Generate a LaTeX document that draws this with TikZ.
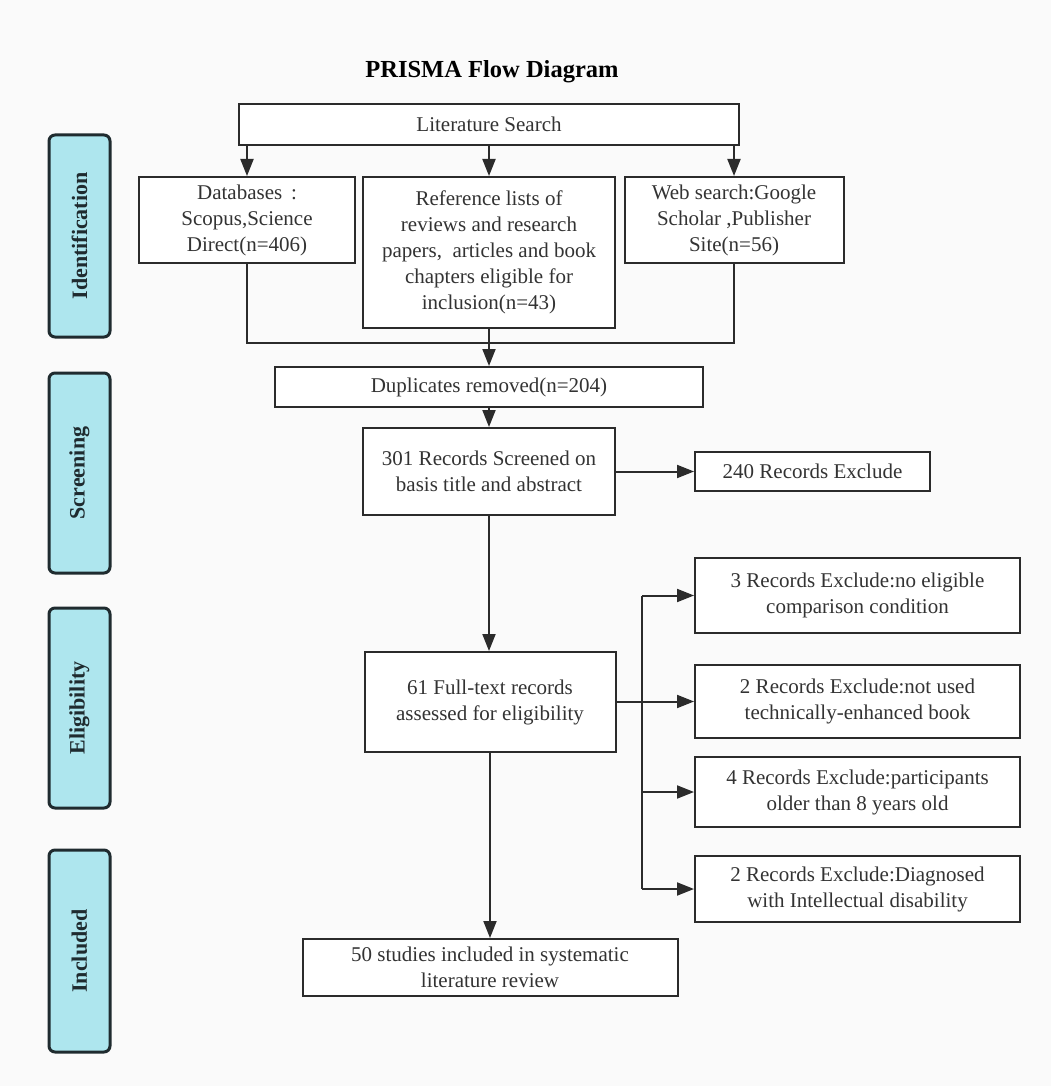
\documentclass[tikz,border=0pt]{standalone}
\usepackage{fontspec}
\setmainfont{Liberation Serif}
\usetikzlibrary{arrows.meta}
\definecolor{bg}{HTML}{FAFAFA}
\definecolor{ln}{HTML}{2B2B2B}
\definecolor{tx}{HTML}{333333}
\definecolor{lanefill}{HTML}{AEE6EE}
\definecolor{laneline}{HTML}{1F2B2F}
\tikzset{
  box/.style={draw=ln, line width=2pt, fill=white, text=tx, align=center,
    inner sep=0pt, font=\fontsize{21}{26}\selectfont},
  lane/.style={draw=laneline, line width=3pt, fill=lanefill, rounded corners=6pt,
    minimum width=61pt, inner sep=0pt, text=laneline},
  lanetext/.style={rotate=90, font=\bfseries\fontsize{22}{26}\selectfont, text=laneline},
  conn/.style={draw=ln, line width=2pt},
  arr/.style={conn, -{Triangle[length=17pt,width=13pt]}},
}
\begin{document}
\begin{tikzpicture}[x=1pt,y=-1pt]
\useasboundingbox (0,0) rectangle (1051,1086);
\fill[bg] (0,0) rectangle (1051,1086);

% title
\node[font=\bfseries\fontsize{24.5}{28}\selectfont, text=black] (title) at (492,72) {PRISMA Flow Diagram};

% lane labels
\node[lane, minimum height=202pt] (lid) at (79.5,236) {};
\node[lanetext] (tid) at (lid.center) {Identification};
\node[lane, minimum height=200pt] (lsc) at (79.5,473) {};
\node[lanetext] (tsc) at (lsc.center) {Screening};
\node[lane, minimum height=200pt] (lel) at (79.5,708) {};
\node[lanetext] (tel) at (lel.center) {Eligibility};
\node[lane, minimum height=202pt] (lin) at (79.5,951) {};
\node[lanetext] (tin) at (lin.center) {Included};

% boxes
\node[box, minimum width=500pt, minimum height=41pt] (lit) at (489,124.5) {Literature Search};
\node[box, minimum width=216pt, minimum height=86pt] (db) at (247,220) {Databases\ \,:\\Scopus,Science\\Direct(n=406)};
\node[box, minimum width=252pt, minimum height=151pt] (ref) at (489,252.5) {Reference lists of\\reviews and research\\papers,\ \ articles and book\\chapters eligible for\\inclusion(n=43)};
\node[box, minimum width=219pt, minimum height=86pt] (web) at (734,220) {Web search:Google\\Scholar ,Publisher\\Site(n=56)};
\node[box, minimum width=428pt, minimum height=40pt] (dup) at (489,387) {Duplicates removed(n=204)};
\node[box, minimum width=252pt, minimum height=87pt] (scr) at (489,471.5) {301 Records Screened on\\basis title and abstract};
\node[box, minimum width=235pt, minimum height=39pt] (ex1) at (812.5,471.5) {240 Records Exclude};
\node[box, minimum width=251pt, minimum height=100pt] (full) at (490,702) {61 Full-text records\\assessed for eligibility};
\node[box, minimum width=325pt, minimum height=75pt] (ea) at (857.5,595.5) {3 Records Exclude:no eligible\\comparison condition};
\node[box, minimum width=325pt, minimum height=73pt] (eb) at (857.5,701.5) {2 Records Exclude:not used\\technically-enhanced book};
\node[box, minimum width=325pt, minimum height=70pt] (ec) at (857.5,792) {4 Records Exclude:participants\\older than 8 years old};
\node[box, minimum width=325pt, minimum height=66pt] (ed) at (857.5,889) {2 Records Exclude:Diagnosed\\with Intellectual disability};
\node[box, minimum width=375pt, minimum height=57pt] (inc) at (490,967.5) {50 studies included in systematic\\literature review};

% connectors
\draw[arr] (lit.south -| db.north) -- (db.north);
\draw[arr] (lit.south -| ref.north) -- (ref.north);
\draw[arr] (lit.south -| web.north) -- (web.north);

\coordinate (m) at (489,343);
\draw[conn] (db.south) |- (m) -| (web.south);
\draw[conn] (ref.south) -- (m);
\draw[arr] (m) -- (dup.north);

\draw[arr] (dup.south) -- (dup.south |- scr.north);
\draw[arr] (scr.east) -- (scr.east -| ex1.west);
\draw[arr] (scr.south) -- (scr.south |- full.north);

\coordinate (br) at (642,702);
\draw[conn] (br |- ea.west) -- (br |- ed.west);
\draw[conn] (full.east) -- (br);
\draw[arr] (br |- ea.west) -- (ea.west);
\draw[arr] (br |- eb.west) -- (eb.west);
\draw[arr] (br |- ec.west) -- (ec.west);
\draw[arr] (br |- ed.west) -- (ed.west);

\draw[arr] (full.south -| inc.north) -- (inc.north);
\end{tikzpicture}
\end{document}
